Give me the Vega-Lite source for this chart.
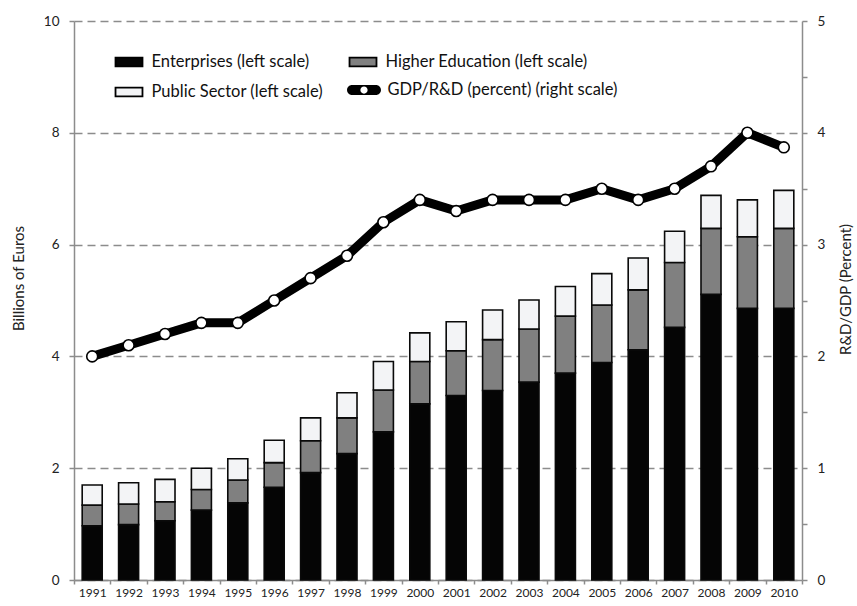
{
  "$schema": "https://vega.github.io/schema/vega-lite/v6.json",
  "autosize": "none",
  "width": 728,
  "height": 559,
  "padding": {"left": 74, "top": 21, "right": 55, "bottom": 26},
  "background": "white",
  "config": {
    "font": "Lato",
    "view": {"stroke": null},
    "axis": {"labelFont": "Lato", "titleFont": "Lato", "labelColor": "#222", "titleColor": "#222", "domainColor": "#8c8c8c", "domainWidth": 1.5, "tickColor": "#8c8c8c", "tickWidth": 1.5}
  },
  "datasets": {
    "bars": [
      {"year": "1991", "sector": "Enterprises (left scale)", "billions": 0.97},
      {"year": "1991", "sector": "Higher Education (left scale)", "billions": 0.37},
      {"year": "1991", "sector": "Public Sector (left scale)", "billions": 0.36},
      {"year": "1992", "sector": "Enterprises (left scale)", "billions": 0.99},
      {"year": "1992", "sector": "Higher Education (left scale)", "billions": 0.37},
      {"year": "1992", "sector": "Public Sector (left scale)", "billions": 0.38},
      {"year": "1993", "sector": "Enterprises (left scale)", "billions": 1.06},
      {"year": "1993", "sector": "Higher Education (left scale)", "billions": 0.34},
      {"year": "1993", "sector": "Public Sector (left scale)", "billions": 0.40},
      {"year": "1994", "sector": "Enterprises (left scale)", "billions": 1.25},
      {"year": "1994", "sector": "Higher Education (left scale)", "billions": 0.37},
      {"year": "1994", "sector": "Public Sector (left scale)", "billions": 0.38},
      {"year": "1995", "sector": "Enterprises (left scale)", "billions": 1.38},
      {"year": "1995", "sector": "Higher Education (left scale)", "billions": 0.41},
      {"year": "1995", "sector": "Public Sector (left scale)", "billions": 0.38},
      {"year": "1996", "sector": "Enterprises (left scale)", "billions": 1.66},
      {"year": "1996", "sector": "Higher Education (left scale)", "billions": 0.44},
      {"year": "1996", "sector": "Public Sector (left scale)", "billions": 0.40},
      {"year": "1997", "sector": "Enterprises (left scale)", "billions": 1.92},
      {"year": "1997", "sector": "Higher Education (left scale)", "billions": 0.57},
      {"year": "1997", "sector": "Public Sector (left scale)", "billions": 0.41},
      {"year": "1998", "sector": "Enterprises (left scale)", "billions": 2.26},
      {"year": "1998", "sector": "Higher Education (left scale)", "billions": 0.64},
      {"year": "1998", "sector": "Public Sector (left scale)", "billions": 0.45},
      {"year": "1999", "sector": "Enterprises (left scale)", "billions": 2.65},
      {"year": "1999", "sector": "Higher Education (left scale)", "billions": 0.75},
      {"year": "1999", "sector": "Public Sector (left scale)", "billions": 0.51},
      {"year": "2000", "sector": "Enterprises (left scale)", "billions": 3.15},
      {"year": "2000", "sector": "Higher Education (left scale)", "billions": 0.76},
      {"year": "2000", "sector": "Public Sector (left scale)", "billions": 0.51},
      {"year": "2001", "sector": "Enterprises (left scale)", "billions": 3.30},
      {"year": "2001", "sector": "Higher Education (left scale)", "billions": 0.80},
      {"year": "2001", "sector": "Public Sector (left scale)", "billions": 0.52},
      {"year": "2002", "sector": "Enterprises (left scale)", "billions": 3.39},
      {"year": "2002", "sector": "Higher Education (left scale)", "billions": 0.91},
      {"year": "2002", "sector": "Public Sector (left scale)", "billions": 0.53},
      {"year": "2003", "sector": "Enterprises (left scale)", "billions": 3.54},
      {"year": "2003", "sector": "Higher Education (left scale)", "billions": 0.95},
      {"year": "2003", "sector": "Public Sector (left scale)", "billions": 0.52},
      {"year": "2004", "sector": "Enterprises (left scale)", "billions": 3.70},
      {"year": "2004", "sector": "Higher Education (left scale)", "billions": 1.02},
      {"year": "2004", "sector": "Public Sector (left scale)", "billions": 0.53},
      {"year": "2005", "sector": "Enterprises (left scale)", "billions": 3.89},
      {"year": "2005", "sector": "Higher Education (left scale)", "billions": 1.03},
      {"year": "2005", "sector": "Public Sector (left scale)", "billions": 0.56},
      {"year": "2006", "sector": "Enterprises (left scale)", "billions": 4.12},
      {"year": "2006", "sector": "Higher Education (left scale)", "billions": 1.07},
      {"year": "2006", "sector": "Public Sector (left scale)", "billions": 0.57},
      {"year": "2007", "sector": "Enterprises (left scale)", "billions": 4.52},
      {"year": "2007", "sector": "Higher Education (left scale)", "billions": 1.16},
      {"year": "2007", "sector": "Public Sector (left scale)", "billions": 0.56},
      {"year": "2008", "sector": "Enterprises (left scale)", "billions": 5.11},
      {"year": "2008", "sector": "Higher Education (left scale)", "billions": 1.18},
      {"year": "2008", "sector": "Public Sector (left scale)", "billions": 0.59},
      {"year": "2009", "sector": "Enterprises (left scale)", "billions": 4.86},
      {"year": "2009", "sector": "Higher Education (left scale)", "billions": 1.28},
      {"year": "2009", "sector": "Public Sector (left scale)", "billions": 0.66},
      {"year": "2010", "sector": "Enterprises (left scale)", "billions": 4.86},
      {"year": "2010", "sector": "Higher Education (left scale)", "billions": 1.43},
      {"year": "2010", "sector": "Public Sector (left scale)", "billions": 0.68}
    ],
    "gdp": [
      {"year": "1991", "pct": 2.0},
      {"year": "1992", "pct": 2.1},
      {"year": "1993", "pct": 2.2},
      {"year": "1994", "pct": 2.3},
      {"year": "1995", "pct": 2.3},
      {"year": "1996", "pct": 2.5},
      {"year": "1997", "pct": 2.7},
      {"year": "1998", "pct": 2.9},
      {"year": "1999", "pct": 3.2},
      {"year": "2000", "pct": 3.4},
      {"year": "2001", "pct": 3.3},
      {"year": "2002", "pct": 3.4},
      {"year": "2003", "pct": 3.4},
      {"year": "2004", "pct": 3.4},
      {"year": "2005", "pct": 3.5},
      {"year": "2006", "pct": 3.4},
      {"year": "2007", "pct": 3.5},
      {"year": "2008", "pct": 3.7},
      {"year": "2009", "pct": 4.0},
      {"year": "2010", "pct": 3.87}
    ]
  },
  "layer": [
    {
      "data": {"name": "bars"},
      "mark": {"type": "bar", "width": {"band": 0.55}, "stroke": "#0a0a0a", "strokeWidth": 1.6},
      "encoding": {
        "x": {
          "field": "year", "type": "nominal",
          "scale": {"paddingInner": 0, "paddingOuter": 0},
          "axis": {"title": null, "labelAngle": 0, "labelFontSize": 12, "labelPadding": 3, "tickSize": 4, "tickBand": "extent", "domainColor": "#8c8c8c"}
        },
        "y": {
          "field": "billions", "type": "quantitative", "stack": "zero",
          "scale": {"domain": [0, 10], "nice": false},
          "axis": {
            "orient": "left", "title": "Billions of Euros", "values": [0, 2, 4, 6, 8, 10],
            "labelFontSize": 13.5, "labelPadding": 10, "tickSize": 5,
            "titleFontSize": 15, "titleFontWeight": "normal", "titleX": -56, "titleY": 257, "titleAngle": 270, "titleBaseline": "middle", "titleAlign": "center",
            "grid": true, "gridColor": "#8c8c8c", "gridWidth": 1.5, "gridDash": [8, 5]
          }
        },
        "order": {"field": "sector", "type": "nominal", "sort": "ascending"},
        "fill": {
          "field": "sector", "type": "nominal",
          "scale": {
            "domain": ["Enterprises (left scale)", "Higher Education (left scale)", "Public Sector (left scale)"],
            "range": ["#050505", "#808080", "#f3f4f6"]
          },
          "legend": {
            "title": null, "orient": "none", "legendX": 39.5, "legendY": 25.5, "direction": "horizontal", "columns": 2,
            "columnPadding": 22, "rowPadding": 6, "padding": 0, "symbolSize": 841, "labelOffset": 7,
            "symbolType": "M-0.93,-0.3L0.93,-0.3L0.93,0.3L-0.93,0.3Z",
            "symbolStrokeColor": "#000", "symbolStrokeWidth": 1.8, "symbolOpacity": 1,
            "labelFont": "Lato", "labelFontSize": 16.5, "labelColor": "#111", "labelLimit": 400
          }
        }
      }
    },
    {
      "data": {"name": "gdp"},
      "mark": {
        "type": "line", "color": "#000", "strokeWidth": 9, "strokeJoin": "round",
        "point": {"filled": true, "fill": "white", "stroke": "#000", "strokeWidth": 1.6, "size": 120, "opacity": 1}
      },
      "encoding": {
        "x": {"field": "year", "type": "nominal"},
        "y": {
          "field": "pct", "type": "quantitative",
          "scale": {"domain": [0, 5], "nice": false},
          "axis": {
            "orient": "right", "title": "R&D/GDP (Percent)",
            "values": [0, 0.5, 1, 1.5, 2, 2.5, 3, 3.5, 4, 4.5, 5],
            "labelExpr": "datum.value % 1 === 0 ? '' + datum.value : ''",
            "labelFontSize": 13.5, "labelPadding": 10, "tickSize": 5, "grid": false,
            "titleFontSize": 15, "titleFontWeight": "normal", "titleX": 43, "titleY": 268, "titleAngle": 270, "titleBaseline": "middle", "titleAlign": "center"
          }
        }
      }
    },
    {
      "data": {"name": "gdp"},
      "mark": {"type": "point", "filled": true, "opacity": 0, "size": 1},
      "encoding": {
        "x": {"field": "year", "type": "nominal"},
        "y": {"field": "pct", "type": "quantitative", "scale": {"domain": [0, 5], "nice": false}, "axis": null},
        "fill": {
          "datum": "GDP/R&D (percent) (right scale)",
          "scale": {"range": ["#000000"]},
          "legend": {
            "title": null, "orient": "none", "legendX": 275.5, "legendY": 54.5, "padding": 0,
            "symbolSize": 841, "labelOffset": 9,
            "symbolType": "M-0.825,-0.345L0.825,-0.345A0.345,0.345 0 0 1 0.825,0.345L-0.825,0.345A0.345,0.345 0 0 1 -0.825,-0.345ZM0.25,0A0.25,0.25 0 0 0 -0.25,0A0.25,0.25 0 0 0 0.25,0Z",
            "symbolStrokeWidth": 0, "symbolOpacity": 1,
            "labelFont": "Lato", "labelFontSize": 16.5, "labelColor": "#111", "labelLimit": 400
          }
        }
      }
    }
  ],
  "resolve": {"scale": {"y": "independent", "fill": "independent"}, "legend": {"fill": "independent"}}
}
